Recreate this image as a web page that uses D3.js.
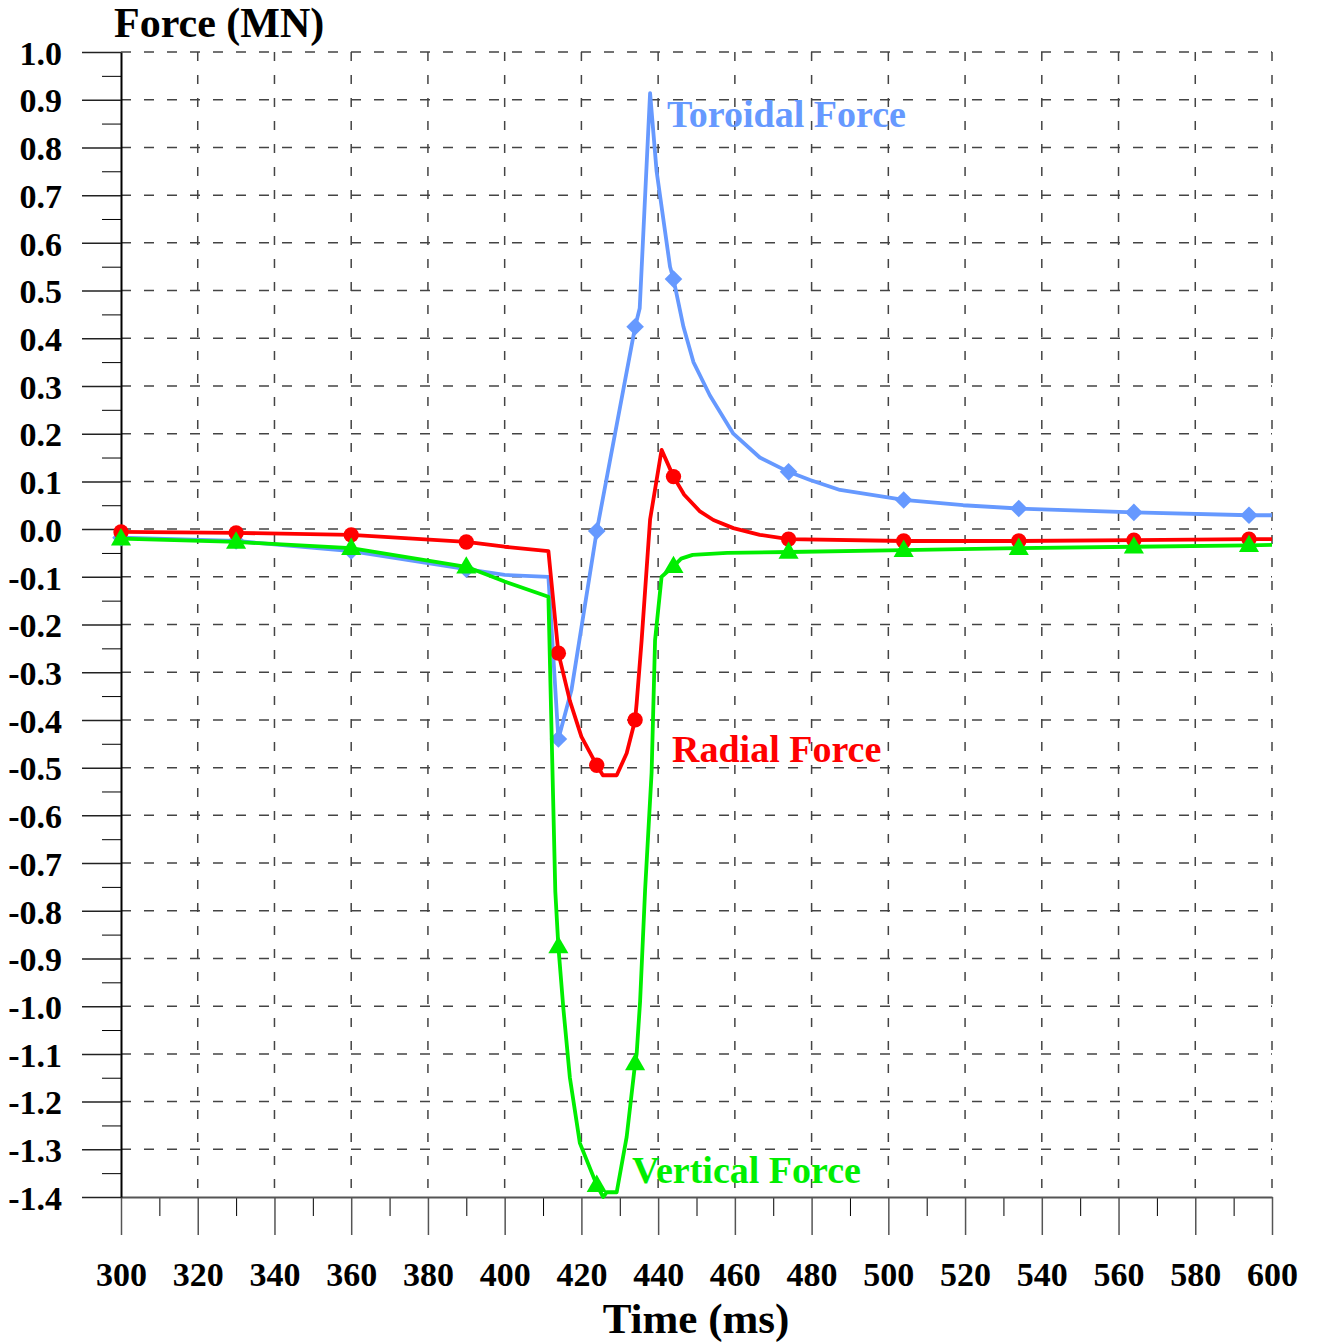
<!DOCTYPE html>
<html>
<head>
<meta charset="utf-8">
<title>Force (MN)</title>
<script src="https://cdn.jsdelivr.net/npm/d3@7"></script>
<style>
    body { margin: 0; background: #fff; }
    svg text { font-family: "Liberation Serif", "Times New Roman", serif; font-weight: bold; }
</style>
</head>
<body>
<div id="chart"></div>
<script>
'use strict';

// Time (ms) / force (MN) pairs
const toroidalForce = [
    [300, -0.018], [330, -0.025], [360, -0.046], [390, -0.084], [400, -0.096],
    [411.4, -0.1], [414, -0.44], [417.4, -0.338], [424, -0.004], [434, 0.424],
    [435.2, 0.463], [437.9, 0.914], [439.6, 0.75], [443.1, 0.55], [444, 0.524],
    [446.6, 0.424], [449.2, 0.35], [453.5, 0.28], [459.6, 0.2], [466.5, 0.15],
    [474, 0.12], [479.6, 0.103], [487.4, 0.082], [504, 0.061], [519.5, 0.05],
    [534, 0.043], [564, 0.035], [594, 0.029], [600, 0.029]
];

const radialForce = [
    [300, -0.006], [330, -0.008], [360, -0.012], [390, -0.027], [400, -0.037],
    [411.4, -0.046], [414, -0.26], [417, -0.36], [420, -0.435], [424, -0.495],
    [425.6, -0.516], [429.2, -0.516], [431.8, -0.47], [434, -0.40], [434.4, -0.365],
    [435.7, -0.233], [437.9, 0.02], [440.9, 0.166], [444, 0.11], [446.8, 0.072],
    [450.9, 0.037], [454.4, 0.019], [459.6, 0.002], [466.5, -0.012], [474, -0.021],
    [504, -0.025], [534, -0.025], [564, -0.023], [594, -0.021], [600, -0.021]
];

const verticalForce = [
    [300, -0.02], [330, -0.027], [360, -0.04], [390, -0.079], [400, -0.11],
    [411.4, -0.142], [413.2, -0.76], [414, -0.875], [415.3, -1.005], [417, -1.15],
    [419.6, -1.287], [424, -1.375], [425.7, -1.4], [426.6, -1.39], [429.2, -1.39],
    [431.8, -1.274], [434, -1.12], [434.4, -1.10], [435.3, -0.99], [436.6, -0.757],
    [438.3, -0.51], [439.2, -0.233], [440.9, -0.1], [444, -0.078], [446, -0.062],
    [449, -0.054], [458, -0.05], [474, -0.048], [504, -0.044], [534, -0.04],
    [564, -0.037], [594, -0.034], [600, -0.033]
];

// Times at which the series carry a marker symbol
const markerTimes = [300, 330, 360, 390, 414, 424, 434, 444, 474, 504, 534, 564, 594];

// Axis ticks
const timeTicks = [300, 320, 340, 360, 380, 400, 420, 440, 460, 480, 500, 520, 540, 560, 580, 600];
const timeMinorTicks = [310, 330, 350, 370, 390, 410, 430, 450, 470, 490, 510, 530, 550, 570, 590];
const forceTicks = [1.0, 0.9, 0.8, 0.7, 0.6, 0.5, 0.4, 0.3, 0.2, 0.1, 0.0, -0.1, -0.2, -0.3, -0.4,
    -0.5, -0.6, -0.7, -0.8, -0.9, -1.0, -1.1, -1.2, -1.3, -1.4];
const forceTickLabels = ['1.0', '0.9', '0.8', '0.7', '0.6', '0.5', '0.4', '0.3', '0.2', '0.1', '0.0',
    '-0.1', '-0.2', '-0.3', '-0.4', '-0.5', '-0.6', '-0.7', '-0.8', '-0.9', '-1.0', '-1.1', '-1.2', '-1.3', '-1.4'];

(function() {
    const width = 1317, height = 1343;

    const svg = d3.select('#chart')
        .append('svg')
            .attr('width', width)
            .attr('height', height);

    // Scales
    const x = d3.scaleLinear().domain([300, 600]).range([121, 1272]);
    const y = d3.scaleLinear().domain([-1.4, 1.0]).range([1197, 52]);

    // Dashed grid
    const grid = svg.append('g').attr('class', 'grid');
    grid.selectAll('line.h')
        .data(forceTicks.filter(function(d) { return d > -1.35; }))
        .enter().append('line')
            .attr('class', 'h')
            .attr('x1', x(300)).attr('x2', x(600))
            .attr('y1', function(d) { return y(d); })
            .attr('y2', function(d) { return y(d); })
            .attr('stroke', '#444')
            .attr('stroke-width', 1.5)
            .attr('stroke-dasharray', '10,13');
    grid.selectAll('line.v')
        .data(timeTicks.filter(function(d) { return d > 300; }))
        .enter().append('line')
            .attr('class', 'v')
            .attr('x1', function(d) { return x(d); })
            .attr('x2', function(d) { return x(d); })
            .attr('y1', y(1.0)).attr('y2', y(-1.4))
            .attr('stroke', '#444')
            .attr('stroke-width', 1.5)
            .attr('stroke-dasharray', '9,14');

    // X axis: long ticks every 20 ms, short ones between
    svg.append('g')
        .attr('transform', 'translate(0,' + y(-1.4) + ')')
        .call(d3.axisBottom(x).tickValues(timeMinorTicks).tickSize(19).tickSizeOuter(0).tickFormat(''))
        .call(function(g) { g.select('.domain').remove(); });

    const xAxis = svg.append('g')
        .attr('class', 'x axis')
        .attr('transform', 'translate(0,' + y(-1.4) + ')')
        .call(d3.axisBottom(x).tickValues(timeTicks).tickSize(38).tickSizeOuter(0).tickPadding(27)
            .tickFormat(function(d) { return String(d); }));
    xAxis.select('.domain').attr('stroke', '#555').attr('stroke-width', 2);
    xAxis.selectAll('.tick line').attr('stroke', '#555').attr('stroke-width', 1.5);
    xAxis.selectAll('.tick text')
        .attr('fill', '#000')
        .attr('font-size', '34px');

    // Y axis: long ticks every 0.1, short ones between
    svg.append('g')
        .attr('transform', 'translate(' + x(300) + ',0)')
        .call(d3.axisLeft(y).tickValues(d3.range(-1.35, 1.0, 0.1)).tickSize(19).tickSizeOuter(0).tickFormat(''))
        .call(function(g) { g.select('.domain').remove(); });

    const yAxis = svg.append('g')
        .attr('class', 'y axis')
        .attr('transform', 'translate(' + x(300) + ',0)')
        .call(d3.axisLeft(y).tickValues(forceTicks).tickSize(39).tickSizeOuter(0).tickPadding(20)
            .tickFormat(function(d, i) { return forceTickLabels[i]; }));
    yAxis.select('.domain').attr('stroke', '#000').attr('stroke-width', 2);
    yAxis.selectAll('.tick line').attr('stroke', '#222').attr('stroke-width', 1.5);
    yAxis.selectAll('.tick text')
        .attr('fill', '#000')
        .attr('font-size', '34px')
        .attr('dy', '0.36em');

    // Axis titles
    svg.append('text')
        .attr('x', 114)
        .attr('y', 37)
        .attr('font-size', '42px')
        .text('Force (MN)');

    svg.append('text')
        .attr('x', 696)
        .attr('y', 1333)
        .attr('font-size', '43px')
        .attr('text-anchor', 'middle')
        .text('Time (ms)');

    // Series
    const line = d3.line()
        .x(function(d) { return x(d[0]); })
        .y(function(d) { return y(d[1]); });

    const series = [
        { name: 'Toroidal Force', data: toroidalForce, color: '#6699ff', symbol: d3.symbolSquare, size: 155, rotate: 45, label: [667, 127] },
        { name: 'Radial Force', data: radialForce, color: '#ff0000', symbol: d3.symbolCircle, size: 185, rotate: 0, label: [672, 762] },
        { name: 'Vertical Force', data: verticalForce, color: '#00ee00', symbol: d3.symbolTriangle, size: 175, rotate: 0, label: [632, 1183] }
    ];

    series.forEach(function(s) {
        const g = svg.append('g');

        g.append('path')
            .datum(s.data)
            .attr('fill', 'none')
            .attr('stroke', s.color)
            .attr('stroke-width', 3.8)
            .attr('stroke-linejoin', 'round')
            .attr('d', line);

        const marks = s.data.filter(function(d) { return markerTimes.indexOf(d[0]) >= 0; });
        g.selectAll('path.mark')
            .data(marks)
            .enter().append('path')
                .attr('class', 'mark')
                .attr('transform', function(d) {
                    const dy = s.symbol === d3.symbolTriangle ? 1 : 0;
                    return 'translate(' + x(d[0]) + ',' + (y(d[1]) + dy) + ') rotate(' + s.rotate + ')';
                })
                .attr('d', d3.symbol().type(s.symbol).size(s.size))
                .attr('fill', s.color);

        // Series name next to its curve
        g.append('text')
            .attr('x', s.label[0])
            .attr('y', s.label[1])
            .attr('font-size', '38px')
            .attr('fill', s.color)
            .text(s.name);
    });
})();
</script>
</body>
</html>
